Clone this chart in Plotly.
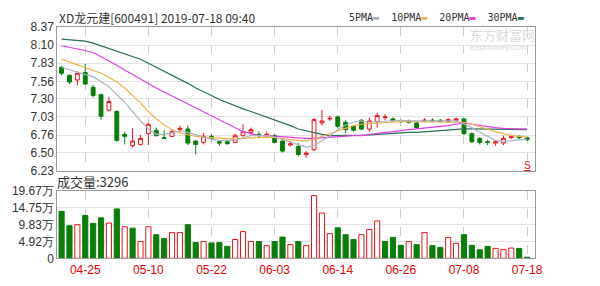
import plotly.graph_objects as go

dates = ["04-22","04-23","04-24","04-25","04-26","04-29","04-30","05-06","05-07","05-08",
         "05-09","05-10","05-13","05-14","05-15","05-16","05-17","05-20","05-21","05-22",
         "05-23","05-24","05-27","05-28","05-29","05-30","05-31","06-03","06-04","06-05",
         "06-06","06-10","06-11","06-12","06-13","06-14","06-17","06-18","06-19","06-20",
         "06-21","06-24","06-25","06-26","06-27","06-28","07-01","07-02","07-03","07-04",
         "07-05","07-08","07-09","07-10","07-11","07-12","07-15","07-16","07-17","07-18"]

opens  = [7.77,7.65,7.58,7.69,7.47,7.36,7.13,7.11,6.77,6.60,6.62,6.78,6.83,6.72,6.74,6.84,6.85,6.67,6.65,6.74,
          6.66,6.66,6.65,6.75,6.80,6.77,6.75,6.75,6.67,6.61,6.59,6.47,6.54,6.94,7.00,7.03,6.95,6.89,6.98,6.85,
          6.96,7.02,7.00,6.97,6.97,6.94,6.97,6.98,6.98,6.96,6.98,7.00,6.78,6.71,6.66,6.64,6.64,6.72,6.74,6.72]
highs  = [7.79,7.66,7.71,7.82,7.51,7.38,7.33,7.13,6.81,6.86,6.76,6.94,6.87,6.83,6.84,6.90,6.90,6.68,6.79,6.77,
          6.68,6.68,6.78,6.92,6.87,6.81,6.81,6.78,6.68,6.67,6.64,6.52,7.01,7.13,7.05,7.05,6.98,6.91,7.00,7.02,
          7.09,7.07,7.02,6.99,6.99,6.96,7.01,7.01,7.00,7.01,7.02,7.01,6.80,6.73,6.69,6.68,6.75,6.76,6.76,6.73]
lows   = [7.65,7.52,7.50,7.51,7.32,6.99,7.11,6.66,6.62,6.57,6.60,6.61,6.74,6.70,6.73,6.80,6.61,6.47,6.62,6.68,
          6.60,6.62,6.64,6.74,6.75,6.71,6.73,6.64,6.50,6.59,6.44,6.42,6.52,6.90,6.97,6.86,6.79,6.81,6.83,6.81,
          6.87,6.98,6.97,6.94,6.93,6.85,6.95,6.95,6.95,6.94,6.96,6.76,6.64,6.62,6.61,6.60,6.61,6.70,6.70,6.67]
closes = [7.68,7.55,7.68,7.52,7.35,7.04,7.26,6.68,6.74,6.67,6.71,6.92,6.75,6.71,6.81,6.86,6.64,6.62,6.74,6.71,
          6.64,6.63,6.75,6.81,6.84,6.75,6.77,6.65,6.52,6.63,6.47,6.49,6.99,6.97,7.01,6.89,6.84,6.83,6.85,6.97,
          7.05,7.03,6.97,6.96,6.95,6.87,6.98,6.97,6.96,6.99,7.00,6.78,6.66,6.65,6.65,6.66,6.71,6.74,6.72,6.69]

ma5  = [7.77,7.73,7.70,7.66,7.63,7.55,7.48,7.36,7.25,7.11,6.97,6.85,6.77,6.77,6.80,6.82,6.80,6.76,6.73,6.70,
        6.68,6.68,6.68,6.72,6.75,6.75,6.75,6.73,6.69,6.66,6.62,6.58,6.60,6.67,6.75,6.84,6.91,6.95,6.97,6.95,
        6.96,6.97,6.98,6.98,6.97,6.97,6.96,6.96,6.96,6.97,6.97,6.92,6.87,6.80,6.74,6.68,6.66,6.67,6.69,6.70]
ma10 = [7.89,7.85,7.80,7.77,7.73,7.68,7.62,7.55,7.46,7.35,7.24,7.11,7.00,6.91,6.84,6.79,6.76,6.74,6.73,6.72,
        6.71,6.70,6.70,6.71,6.72,6.73,6.73,6.72,6.70,6.69,6.68,6.67,6.70,6.74,6.78,6.83,6.86,6.90,6.92,6.93,
        6.94,6.95,6.95,6.96,6.96,6.96,6.96,6.96,6.96,6.96,6.96,6.95,6.92,6.88,6.85,6.81,6.78,6.75,6.74,6.73]
ma20 = [8.09,8.07,8.05,8.02,7.99,7.93,7.87,7.80,7.73,7.66,7.59,7.52,7.46,7.40,7.34,7.29,7.22,7.17,7.11,7.05,
        6.99,6.92,6.86,6.81,6.78,6.75,6.75,6.74,6.73,6.73,6.72,6.71,6.71,6.72,6.73,6.73,6.74,6.75,6.75,6.77,
        6.78,6.80,6.81,6.83,6.84,6.85,6.86,6.87,6.88,6.90,6.92,6.94,6.92,6.90,6.88,6.87,6.86,6.85,6.85,6.85]
ma30 = [8.19,8.18,8.18,8.16,8.13,8.09,8.06,8.02,7.98,7.93,7.89,7.83,7.77,7.72,7.65,7.59,7.53,7.46,7.41,7.35,
        7.29,7.24,7.19,7.15,7.11,7.07,7.02,6.98,6.94,6.90,6.85,6.82,6.79,6.77,6.75,6.75,6.75,6.75,6.75,6.76,
        6.77,6.78,6.78,6.79,6.80,6.80,6.81,6.82,6.83,6.83,6.84,6.85,6.85,6.85,6.85,6.85,6.84,6.84,6.84,6.84]

volume = [13.7,9.5,9.8,12.5,10.2,11.8,10.3,14.4,9.2,8.8,4.9,9.2,6.9,5.8,7.5,7.5,9.8,4.6,4.9,4.5,
          4.6,3.5,5.5,7.8,4.9,4.9,3.7,4.9,6.2,4.0,4.9,3.7,18.3,13.2,7.2,8.9,6.9,5.5,6.9,8.4,
          10.9,4.9,6.1,3.8,4.9,4.0,7.5,3.7,3.2,6.1,4.4,6.9,3.8,2.5,3.5,2.9,2.6,3.0,2.9,0.33]
vol_up = [0,0,1,0,0,0,1,0,1,0,1,1,0,0,1,1,0,0,1,0,
          0,0,1,1,1,0,1,0,0,1,0,1,1,1,1,0,0,0,1,1,
          1,0,0,0,1,0,1,0,0,1,1,0,0,0,0,1,1,1,0,0]

price_ticks = [6.23, 6.50, 6.76, 7.03, 7.30, 7.56, 7.83, 8.10, 8.37]
vol_ticks = [0, 4.92, 9.83, 14.75, 19.67]
vol_tick_text = ["0", "4.92万", "9.83万", "14.75万", "19.67万"]
date_ticks = ["04-25", "05-10", "05-22", "06-03", "06-14", "06-26", "07-08", "07-18"]

RED = "#e8141c"
GREEN = "#0a7d0a"
W, H = 600, 286
xdom = [58 / W, 541.7 / W]

fig = go.Figure()
fig.add_trace(go.Candlestick(
    x=dates, open=opens, high=highs, low=lows, close=closes,
    increasing=dict(line=dict(color=RED, width=1), fillcolor="white"),
    decreasing=dict(line=dict(color=GREEN, width=1), fillcolor=GREEN),
    whiskerwidth=0, xaxis="x", yaxis="y", showlegend=False, hoverinfo="skip"))

for vals, col in [(ma30, "#2b6e58"), (ma20, "#e23fe0"), (ma10, "#f2b04a"), (ma5, "#a9b3c4")]:
    fig.add_trace(go.Scatter(x=dates, y=vals, mode="lines", line=dict(color=col, width=1.2),
                             xaxis="x", yaxis="y", showlegend=False, hoverinfo="skip"))

fig.add_trace(go.Bar(
    x=dates, y=volume, width=0.65,
    marker=dict(color=["white" if u else GREEN for u in vol_up],
                line=dict(color=[RED if u else GREEN for u in vol_up], width=1)),
    xaxis="x2", yaxis="y2", showlegend=False, hoverinfo="skip"))

axis_font = dict(family="Liberation Sans, Arial", size=12, color="#333333")
common_x = dict(type="category", range=[-0.54, 60.05], domain=xdom, tickmode="array",
                tickvals=date_ticks, showgrid=True, gridcolor="#cfcfcf", griddash="dash",
                gridwidth=1, showline=True, mirror=True, linecolor="#9a9a9a", linewidth=1,
                ticks="", zeroline=False, rangeslider=dict(visible=False), fixedrange=True)

fig.update_layout(
    width=W, height=H, margin=dict(l=0, r=0, t=0, b=0),
    paper_bgcolor="white", plot_bgcolor="white",
    xaxis=dict(**common_x, anchor="y", showticklabels=False),
    yaxis=dict(domain=[1 - 172 / H, 1 - 21 / H], range=[6.23, 8.37], tickmode="array",
               tickvals=price_ticks, ticktext=[f"{v:.2f}" for v in price_ticks],
               showgrid=True, gridcolor="#e3e3e3", gridwidth=1, showline=True, mirror=True,
               linecolor="#9a9a9a", ticks="", tickfont=axis_font, zeroline=False, anchor="x"),
    xaxis2=dict(**common_x, anchor="y2", showticklabels=True, ticktext=date_ticks,
                tickfont=dict(family="Liberation Sans, Arial", size=12, color="#e60000")),
    yaxis2=dict(domain=[1 - 264.3 / H, 1 - 193.3 / H], range=[0, 19.67], tickmode="array",
                tickvals=vol_ticks, ticktext=vol_tick_text, showgrid=True, gridcolor="#e3e3e3",
                showline=True, mirror=True, linecolor="#9a9a9a", ticks="", tickfont=axis_font,
                zeroline=False, anchor="x2"),
    bargap=0.3,
)

def px(xp): return xp / W
def py(yp): return 1 - yp / H

legend_items = [("5PMA", "#a9b3c4"), ("10PMA", "#f2b04a"), ("20PMA", "#e23fe0"), ("30PMA", "#2b6e58")]
legend_html = "  ".join(f"{name}<span style='color:{c}'>▬</span>" for name, c in legend_items)

fig.add_annotation(x=px(58), y=py(11), xref="paper", yref="paper", xanchor="left", yanchor="middle",
                   text="XD龙元建[600491] 2019-07-18 09:40", showarrow=False,
                   font=dict(family="Noto Sans CJK SC", size=12, color="#333333"))
fig.add_annotation(x=px(351), y=py(11), xref="paper", yref="paper", xanchor="left", yanchor="middle",
                   text=legend_html, showarrow=False,
                   font=dict(family="DejaVu Sans Mono", size=10, color="#333333"))
fig.add_annotation(x=px(56), y=py(184), xref="paper", yref="paper", xanchor="left", yanchor="middle",
                   text="成交量:3296", showarrow=False,
                   font=dict(family="Noto Sans CJK SC", size=13, color="#333333"))
fig.add_annotation(x=px(474), y=py(29), xref="paper", yref="paper", xanchor="left", yanchor="middle",
                   text="东方财富网", showarrow=False,
                   font=dict(family="Noto Sans CJK SC", size=13, color="#dadada"))
fig.add_annotation(x=px(474), y=py(43), xref="paper", yref="paper", xanchor="left", yanchor="middle",
                   text="eastmoney.com", showarrow=False,
                   font=dict(family="Liberation Sans", size=8, color="#dadada"))
fig.add_annotation(x=dates[-1], y=6.30, xref="x", yref="y", xanchor="center", yanchor="middle",
                   text="<u>S</u>", showarrow=False,
                   font=dict(family="Liberation Sans", size=10, color=RED))

fig.write_html("out.html")
